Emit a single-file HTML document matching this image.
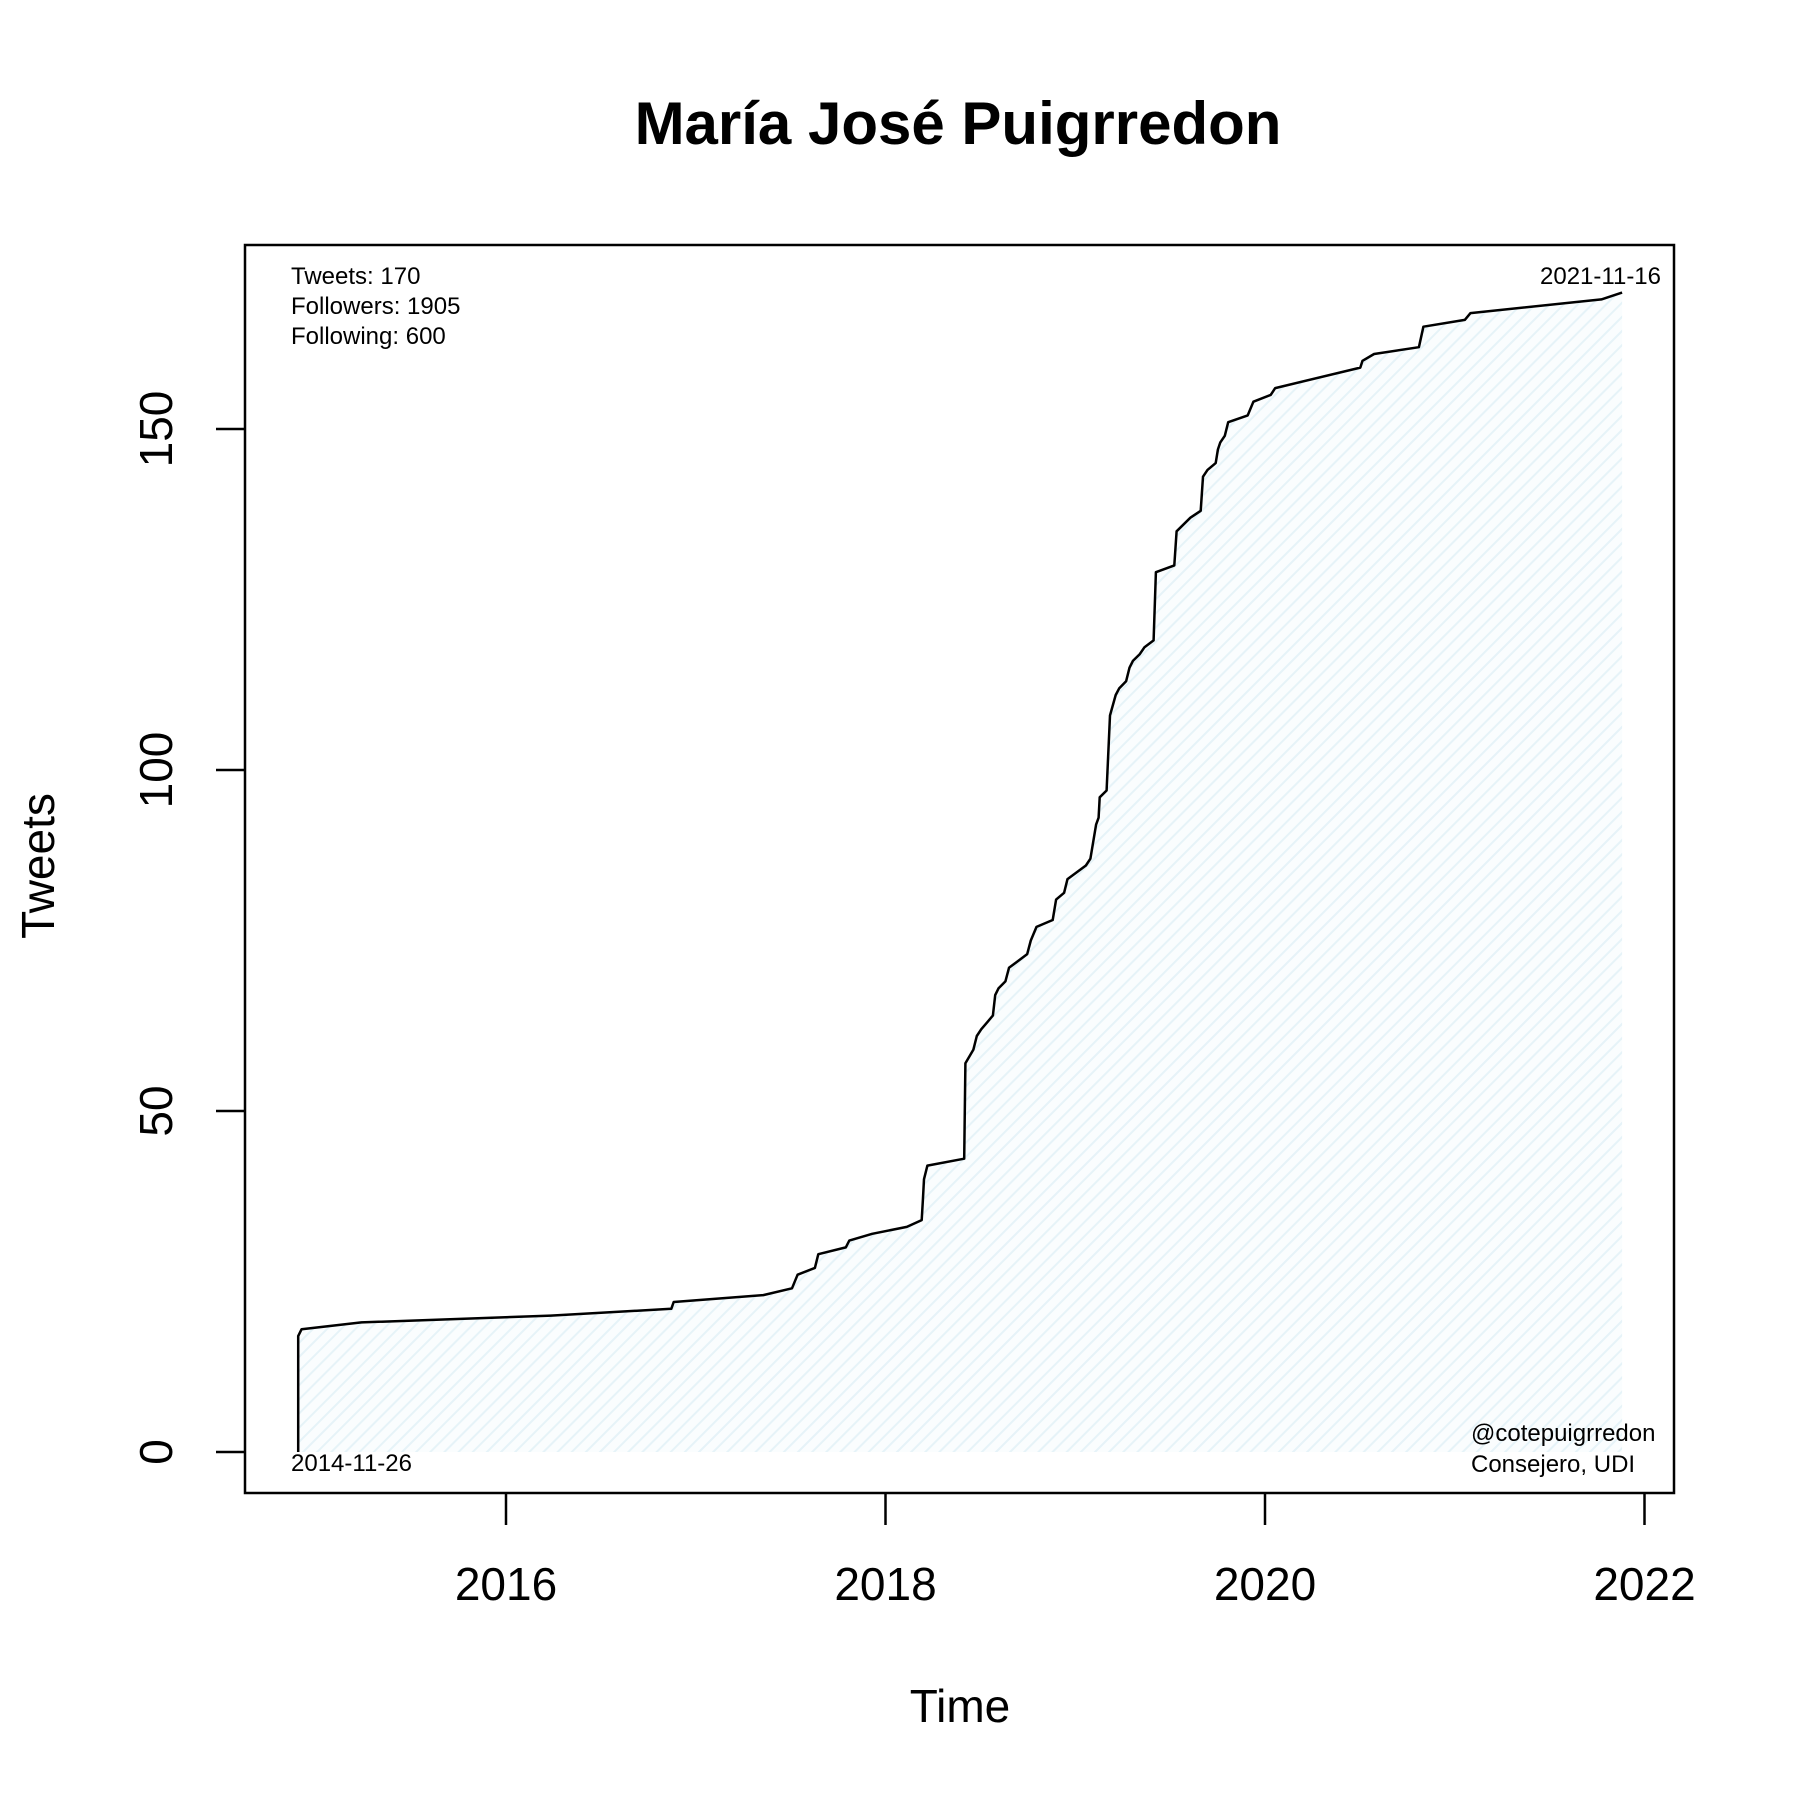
<!DOCTYPE html>
<html><head><meta charset="utf-8"><style>
html,body{margin:0;padding:0;background:#fff}
svg{display:block;font-family:"Liberation Sans",Arial,sans-serif}
</style></head><body>
<svg width="1800" height="1800" viewBox="0 0 1800 1800">
<defs>
<pattern id="hatch" patternUnits="userSpaceOnUse" width="10" height="10" patternTransform="rotate(45)">
<rect width="10" height="10" fill="#fafdfe"/>
<line x1="0" y1="0" x2="0" y2="10" stroke="#e6f3f8" stroke-width="4"/>
</pattern>
</defs>
<text x="958" y="144" text-anchor="middle" font-size="60" font-weight="bold">María José Puigrredon</text>
<g id="plot"></g>
<rect x="245" y="245" width="1429" height="1248" fill="none" stroke="#000" stroke-width="2.5"/>
<text x="291" y="284" font-size="24">Tweets: 170</text>
<text x="291" y="314" font-size="24">Followers: 1905</text>
<text x="291" y="344" font-size="24">Following: 600</text>
<text x="1661" y="284" font-size="24" text-anchor="end">2021-11-16</text>
<text x="291" y="1471" font-size="24">2014-11-26</text>
<text x="1471" y="1441" font-size="24">@cotepuigrredon</text>
<text x="1471" y="1472" font-size="24">Consejero, UDI</text>
<text x="960" y="1722" text-anchor="middle" font-size="46">Time</text>
<text transform="translate(54,866) rotate(-90)" text-anchor="middle" font-size="46">Tweets</text>
</svg>
<script>
const years=[2014.905,2014.905,2014.923,2015.238,2016.236,2016.871,2016.884,2017.356,2017.507,2017.537,2017.628,2017.646,2017.791,2017.809,2017.930,2018.112,2018.191,2018.197,2018.203,2018.221,2018.415,2018.421,2018.463,2018.481,2018.505,2018.536,2018.566,2018.578,2018.596,2018.632,2018.651,2018.747,2018.766,2018.796,2018.881,2018.899,2018.941,2018.959,2019.056,2019.080,2019.110,2019.123,2019.129,2019.165,2019.183,2019.213,2019.232,2019.268,2019.286,2019.304,2019.340,2019.365,2019.413,2019.425,2019.522,2019.534,2019.607,2019.661,2019.673,2019.697,2019.740,2019.752,2019.764,2019.788,2019.806,2019.909,2019.939,2020.030,2020.054,2020.502,2020.514,2020.575,2020.811,2020.835,2021.053,2021.083,2021.773,2021.882];
const tweets=[0,17,18,19,20,21,22,23,24,26,27,29,30,31,32,33,34,37,40,42,43,57,59,61,62,63,64,67,68,69,71,73,75,77,78,81,82,84,86,87,92,93,96,97,108,111,112,113,115,116,117,118,119,129,130,135,137,138,143,144,145,147,148,149,151,152,154,155,156,159,160,161,162,165,166,167,169,170];
const xTicks=[2016,2018,2020,2022];
const yTicks=[0,50,100,150];
const NS="http://www.w3.org/2000/svg";
const xs=y=>506+(y-2016)*189.75;
const ys=v=>1452-v*1023/150;
const g=document.getElementById('plot');
function mk(t,a){const e=document.createElementNS(NS,t);for(const k in a)e.setAttribute(k,a[k]);g.appendChild(e);return e;}
let pts=years.map((y,i)=>xs(y).toFixed(1)+','+ys(tweets[i]).toFixed(1));
const area=mk('polygon',{points:pts.join(' ')+' '+xs(years[years.length-1]).toFixed(1)+','+ys(0)+' '+xs(years[0]).toFixed(1)+','+ys(0),fill:'url(#hatch)'});


const line=mk('polyline',{points:pts.join(' '),fill:'none',stroke:'#000','stroke-width':2.5,'stroke-linejoin':'round'});


xTicks.forEach(t=>{
 const l=mk('line',{x1:xs(t),x2:xs(t),y1:1493,y2:1525,stroke:'#000','stroke-width':2.5});
 
 
 const tx=mk('text',{x:xs(t),y:1600,'text-anchor':'middle','font-size':46});
 tx.textContent=t;
 
 
});
yTicks.forEach(t=>{
 const l=mk('line',{x1:216,x2:245,y1:ys(t),y2:ys(t),stroke:'#000','stroke-width':2.5});
 
 
 const tx=mk('text',{transform:'translate(172,'+ys(t)+') rotate(-90)','text-anchor':'middle','font-size':46});
 tx.textContent=t;
 
 
});
</script>
</body></html>
